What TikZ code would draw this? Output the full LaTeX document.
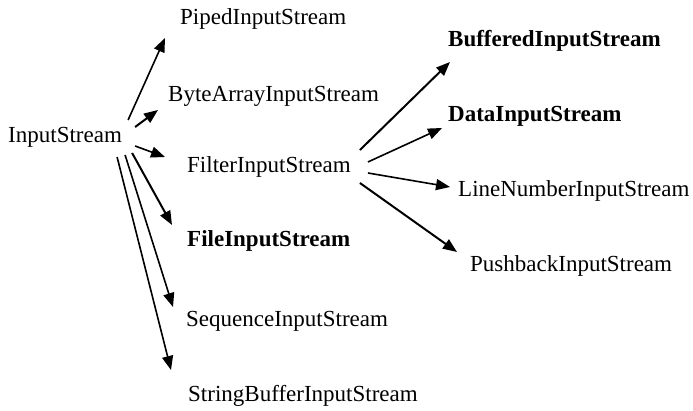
\documentclass[tikz,border=0pt]{standalone}
\usepackage{fontspec}
\setmainfont{Liberation Serif}
\usetikzlibrary{arrows.meta}
\begin{document}
\begin{tikzpicture}[x=1pt,y=1pt,
  lbl/.style={anchor=west,inner sep=0pt,text height=14pt,text depth=0pt,font=\fontsize{23}{27}\selectfont},
  blbl/.style={lbl,font=\fontsize{23}{27}\selectfont\bfseries},
  arr/.style={line width=1.6pt,-{Triangle[length=14pt,width=11pt]}},
  tarr/.style={arr,line width=2pt}]
\useasboundingbox (0,0) rectangle (693,411);
\node[lbl] (in) at (8,275) {InputStream};
\node[lbl] (piped) at (180,393) {PipedInputStream};
\node[lbl] (byte) at (168,316) {ByteArrayInputStream};
\node[lbl] (filter) at (187,245) {FilterInputStream};
\node[blbl] (file) at (187,171) {FileInputStream};
\node[lbl] (seq) at (186,91.5) {SequenceInputStream};
\node[lbl] (sb) at (188,16.5) {StringBufferInputStream};
\node[blbl] (buf) at (448,371) {BufferedInputStream};
\node[blbl] (data) at (448,296) {DataInputStream};
\node[lbl] (line) at (458,221.5) {LineNumberInputStream};
\node[lbl] (push) at (470,146.5) {PushbackInputStream};
\draw[arr] ([shift={(6,16)}]in.east) -- ([shift={(-15,-20)}]piped.west);
\draw[tarr] ([shift={(13,9)}]in.east) -- ([shift={(-10,-15)}]byte.west);
\draw[arr] ([shift={(13,-10)}]in.east) -- ([shift={(-22,9)}]filter.west);
\draw[tarr] ([shift={(10,-17)}]in.east) -- ([shift={(-15,15)}]file.west);
\draw[arr] ([shift={(3,-19)}]in.east) -- ([shift={(-13,12.5)}]seq.west);
\draw[arr] ([shift={(-5,-21)}]in.east) -- ([shift={(-17,24.5)}]sb.west);
\draw[tarr] ([shift={(9,16)}]filter.east) -- ([shift={(2,-22)}]buf.west);
\draw[arr] ([shift={(17,4)}]filter.east) -- ([shift={(-6,-13)}]data.west);
\draw[arr] ([shift={(17,-7)}]filter.east) -- ([shift={(-8,2.5)}]line.west);
\draw[tarr] ([shift={(9,-17)}]filter.east) -- ([shift={(-13,12.5)}]push.west);
\end{tikzpicture}
\end{document}
